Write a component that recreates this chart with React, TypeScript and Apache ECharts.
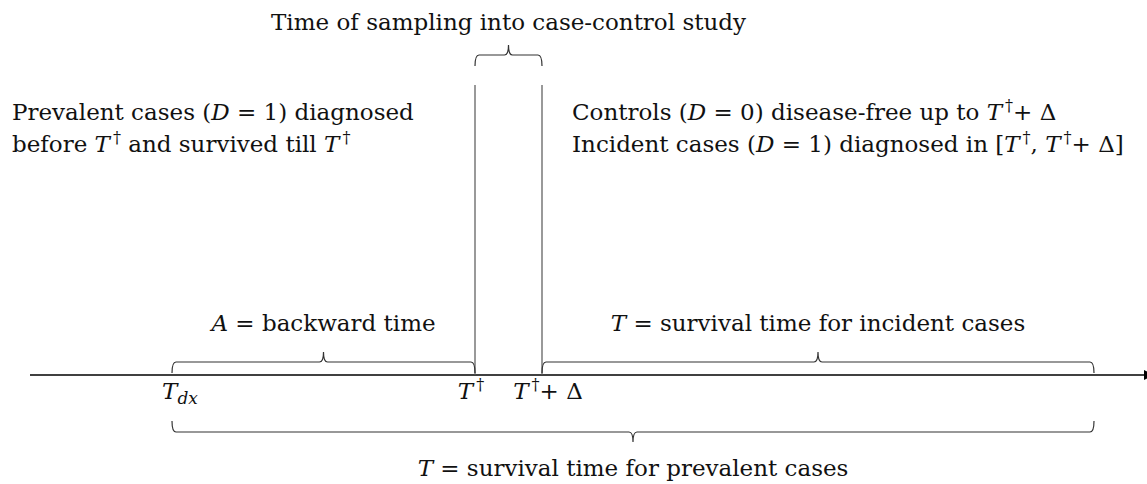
import React, { useEffect, useRef } from "react";
import * as echarts from "echarts";

// ---- data ----
// time points on the timeline (in the diagram's horizontal units)
const timeLabels = ["{i|T}{sub|dx}", "{i|T}{s|†}", "{i|T}{s|†}+ Δ"];
const timeValues = [172, 475, 542];
const timelineRange = [30, 1146];

// braces: [start, end] on the timeline
const braceNames = ["sampling", "backward", "incident", "prevalent"];
const braceStart = [475, 172, 542, 172];
const braceEnd = [542, 475, 1094, 1094];
const braceLabels = [
  "Time of sampling into case-control study",
  "{i|A} = backward time",
  "{i|T} = survival time for incident cases",
  "{i|T} = survival time for prevalent cases",
];

const leftNotes = [
  "Prevalent cases ({i|D} = 1) diagnosed",
  "before {i|T}{s|†} and survived till {i|T}{s|†}",
];
const rightNotes = [
  "Controls ({i|D} = 0) disease-free up to {i|T}{s|†}+ Δ",
  "Incident cases ({i|D} = 1) diagnosed in [{i|T}{s|†}, {i|T}{s|†}+ Δ]",
];

// ---- layout (vertical positions, styles) ----
const AXIS_Y = 375;
const WINDOW_TOP = 85;
const braceY = [55, 362, 362, 432];
const braceDir = [-1, -1, -1, 1]; // -1 tip up, 1 tip down
const braceLabelY = [22, 323, 323, 468];
const timeLabelY = 391;
const timeLabelDx = [8, -4, 6];
const noteY = [112, 144];
const leftNoteX = 12;
const rightNoteX = 572;

const FONT = "DejaVu Serif";
const FS = 23;
const LH = 30;
const TEXT_COLOR = "#111";
const rich = {
  i: { fontStyle: "italic", fontFamily: FONT, fontSize: FS, lineHeight: LH, color: TEXT_COLOR },
  s: { fontFamily: FONT, fontSize: 16, lineHeight: 16, verticalAlign: "top", color: TEXT_COLOR, padding: [0, 0, 0, 3] },
  sub: { fontStyle: "italic", fontFamily: FONT, fontSize: 17, lineHeight: 17, verticalAlign: "bottom", color: TEXT_COLOR },
};

function textEl(p: number[], text: string, align: string) {
  return {
    type: "text",
    x: p[0],
    y: p[1],
    style: {
      text,
      rich,
      fontFamily: FONT,
      fontSize: FS,
      lineHeight: LH,
      fill: TEXT_COLOR,
      align,
      verticalAlign: "middle",
    },
  };
}

export default function App() {
  const ref = useRef<HTMLDivElement>(null);
  useEffect(() => {
    const chart = echarts.init(ref.current!, null, { renderer: "svg" });

    const option: any = {
      animation: false,
      backgroundColor: "#fff",
      grid: { left: 0, right: 0, top: 0, bottom: 0 },
      xAxis: { type: "value", min: 0, max: 1147, show: false },
      yAxis: { type: "value", min: 0, max: 484, inverse: true, show: false },
      series: [
        {
          name: "timeline",
          type: "custom",
          coordinateSystem: "cartesian2d",
          data: [[timelineRange[0], timelineRange[1]]],
          renderItem: (_p: any, api: any) => {
            const a = api.coord([api.value(0), AXIS_Y]);
            const b = api.coord([api.value(1), AXIS_Y]);
            return {
              type: "group",
              children: [
                {
                  type: "line",
                  shape: { x1: a[0], y1: a[1], x2: b[0] - 2, y2: b[1] },
                  style: { stroke: "#000", lineWidth: 1.6 },
                },
                {
                  type: "polygon",
                  shape: { points: [[b[0] - 2, b[1] - 5], [b[0] + 8, b[1]], [b[0] - 2, b[1] + 5]] },
                  style: { fill: "#000" },
                },
              ],
            };
          },
        },
        {
          name: "sampling window",
          type: "custom",
          coordinateSystem: "cartesian2d",
          data: [timeValues[1], timeValues[2]].map((v) => [v]),
          renderItem: (_p: any, api: any) => {
            const a = api.coord([api.value(0), WINDOW_TOP]);
            const b = api.coord([api.value(0), AXIS_Y]);
            return {
              type: "line",
              shape: { x1: a[0], y1: a[1], x2: b[0], y2: b[1] },
              style: { stroke: "#555", lineWidth: 1.2 },
            };
          },
        },
        {
          name: "braces",
          type: "custom",
          coordinateSystem: "cartesian2d",
          data: braceNames.map((_, i) => [braceStart[i], braceEnd[i], i]),
          renderItem: (_p: any, api: any) => {
            const idx = api.value(2);
            const y = braceY[idx];
            const dir = braceDir[idx];
            const p1 = api.coord([api.value(0), y]);
            const p2 = api.coord([api.value(1), y]);
            const Y = p1[1];
            const x1 = p1[0];
            const x2 = p2[0];
            const m = (x1 + x2) / 2;
            const e = 11;
            const t = 10;
            const d =
              `M ${x1} ${Y - dir * e} Q ${x1} ${Y} ${x1 + 4} ${Y} L ${m - 4} ${Y} ` +
              `Q ${m} ${Y} ${m} ${Y + dir * t} Q ${m} ${Y} ${m + 4} ${Y} ` +
              `L ${x2 - 4} ${Y} Q ${x2} ${Y} ${x2} ${Y - dir * e}`;
            return {
              type: "group",
              children: [
                {
                  type: "path",
                  shape: { pathData: d },
                  style: { stroke: "#333", lineWidth: 1.2, fill: "none" },
                },
                textEl(api.coord([(api.value(0) + api.value(1)) / 2, braceLabelY[idx]]), braceLabels[idx], "center"),
              ],
            };
          },
        },
        {
          name: "time labels",
          type: "custom",
          coordinateSystem: "cartesian2d",
          data: timeValues.map((v, i) => [v, i]),
          renderItem: (_p: any, api: any) => {
            const i = api.value(1);
            const p = api.coord([api.value(0), timeLabelY]);
            return textEl([p[0] + timeLabelDx[i], p[1]], timeLabels[i], "center");
          },
        },
        {
          name: "notes",
          type: "custom",
          coordinateSystem: "cartesian2d",
          data: [0, 1, 2, 3].map((i) => [i]),
          renderItem: (_p: any, api: any) => {
            const i = api.value(0);
            const left = i < 2;
            const line = i % 2;
            const p = api.coord([left ? leftNoteX : rightNoteX, noteY[line]]);
            return textEl(p, left ? leftNotes[line] : rightNotes[line], "left");
          },
        },
      ],
    };
    chart.setOption(option);
    return () => chart.dispose();
  }, []);
  return (
    <div
      ref={ref}
      style={{ position: "absolute", left: 0, top: 0, width: 1147, height: 484, background: "#fff" }}
    />
  );
}
